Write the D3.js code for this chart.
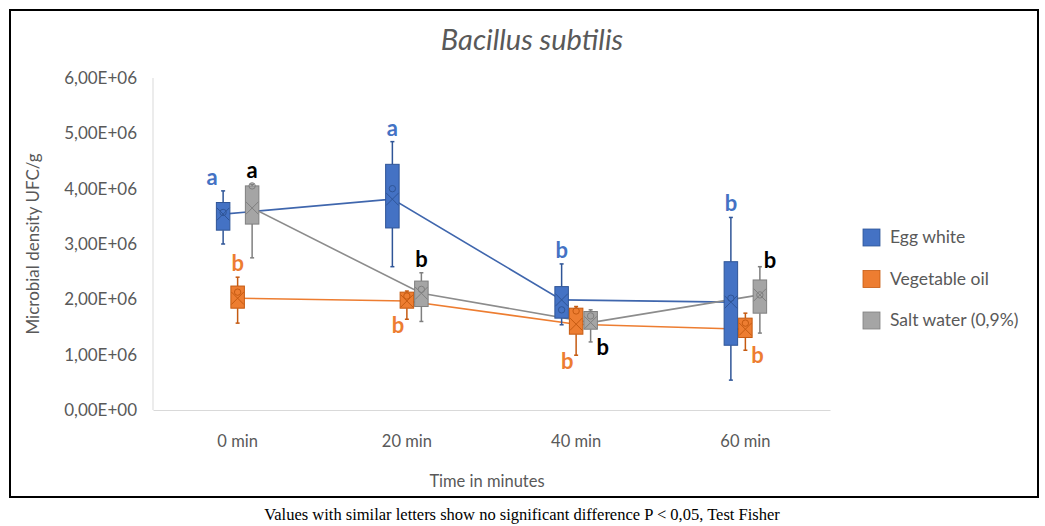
<!DOCTYPE html>
<html>
<head>
<meta charset="utf-8">
<script src="https://cdn.jsdelivr.net/npm/d3@7"></script>
<style>
  body { margin: 0; background: #fff; }
  svg text { font-family: Lato, "Open Sans", sans-serif; }
</style>
</head>
<body>
<div id="chart"></div>
<script>
  // categories and series
  const categories = ["0 min", "20 min", "40 min", "60 min"];
  const seriesNames = ["Egg white", "Vegetable oil", "Salt water (0,9%)"];

  // per category: [min, q1, q3, max, mean, inner point]
  const eggWhite = [
    [3.00e6, 3.25e6, 3.75e6, 3.96e6, 3.54e6, 3.57e6],
    [2.59e6, 3.29e6, 4.44e6, 4.85e6, 3.81e6, 4.00e6],
    [1.54e6, 1.66e6, 2.23e6, 2.64e6, 1.99e6, 1.81e6],
    [0.54e6, 1.17e6, 2.68e6, 3.48e6, 1.95e6, 2.02e6]
  ];
  const vegetableOil = [
    [1.57e6, 1.84e6, 2.24e6, 2.40e6, 2.02e6, 2.13e6],
    [1.64e6, 1.84e6, 2.13e6, 2.15e6, 1.97e6, 2.06e6],
    [0.99e6, 1.37e6, 1.84e6, 1.87e6, 1.55e6, 1.79e6],
    [1.08e6, 1.31e6, 1.66e6, 1.75e6, 1.46e6, 1.57e6]
  ];
  const saltWater = [
    [2.75e6, 3.36e6, 4.05e6, 4.08e6, 3.65e6, 4.05e6],
    [1.60e6, 1.87e6, 2.33e6, 2.48e6, 2.11e6, 2.18e6],
    [1.23e6, 1.46e6, 1.78e6, 1.81e6, 1.58e6, 1.70e6],
    [1.39e6, 1.75e6, 2.35e6, 2.59e6, 2.08e6, 2.08e6]
  ];

  const yTicks = [0, 1e6, 2e6, 3e6, 4e6, 5e6, 6e6];
  const yTickLabels = ["0,00E+00", "1,00E+06", "2,00E+06", "3,00E+06", "4,00E+06", "5,00E+06", "6,00E+06"];

  // significance letters: [category, series index, letter, where]
  const letters = [
    ["0 min", 0, "a", "topLeft"],
    ["0 min", 1, "b", "top"],
    ["0 min", 2, "a", "top"],
    ["20 min", 0, "a", "top"],
    ["20 min", 1, "b", "bottomLeft"],
    ["20 min", 2, "b", "top"],
    ["40 min", 0, "b", "top"],
    ["40 min", 1, "b", "bottomLeft"],
    ["40 min", 2, "b", "bottomRight"],
    ["60 min", 0, "b", "top"],
    ["60 min", 1, "b", "bottomRight"],
    ["60 min", 2, "b", "topRight"]
  ];

  const allSeries = [eggWhite, vegetableOil, saltWater];
  const fills = ["#4472C4", "#ED7D31", "#A5A5A5"];
  const strokes = ["#2F5597", "#C55A11", "#7F7F7F"];
  const letterColors = ["#4472C4", "#ED7D31", "#000000"];
  const textColor = "#595959";

  const width = 1045, height = 526;
  const plot = {left: 153, right: 830, top: 78, bottom: 410};

  const svg = d3.select("#chart").append("svg")
    .attr("width", width)
    .attr("height", height);

  // outer frame
  svg.append("rect")
    .attr("x", 10).attr("y", 10)
    .attr("width", 1028).attr("height", 487)
    .attr("fill", "#fff")
    .attr("stroke", "#000")
    .attr("stroke-width", 2);

  const xScale = d3.scaleBand()
    .domain(categories)
    .range([plot.left, plot.right]);

  const yScale = d3.scaleLinear()
    .domain([0, 6e6])
    .range([plot.bottom, plot.top]);

  const boxW = 14.5;
  function boxX(cat, s) {
    return xScale(cat) + xScale.bandwidth() / 2 + (s - 1) * boxW;
  }

  // axes lines
  svg.append("line")
    .attr("x1", plot.left).attr("x2", plot.left)
    .attr("y1", plot.top).attr("y2", plot.bottom)
    .attr("stroke", "#d9d9d9");
  const xAxis = svg.append("g")
    .attr("transform", "translate(0," + plot.bottom + ")")
    .call(d3.axisBottom(xScale).tickSize(0).tickPadding(25));
  xAxis.select(".domain").attr("stroke", "#d9d9d9");
  xAxis.selectAll("text")
    .attr("fill", textColor)
    .style("font-size", "16.5px");

  const yAxis = svg.append("g")
    .attr("transform", "translate(" + (plot.left - 16) + ",0)")
    .call(d3.axisLeft(yScale).tickValues(yTicks).tickSize(0).tickPadding(0)
      .tickFormat(function (d, i) { return yTickLabels[i]; }));
  yAxis.select(".domain").remove();
  yAxis.selectAll("text")
    .attr("fill", textColor)
    .style("font-size", "17px");

  // mean lines
  allSeries.forEach(function (data, s) {
    const line = d3.line()
      .x(function (d, i) { return boxX(categories[i], s); })
      .y(function (d) { return yScale(d[4]); });
    svg.append("path")
      .datum(data)
      .attr("d", line)
      .attr("fill", "none")
      .attr("stroke", s === 0 ? "#3F66AD" : (s === 1 ? "#ED7D31" : "#8C8C8C"))
      .attr("stroke-width", 1.6);
  });

  // boxes
  allSeries.forEach(function (data, s) {
    const g = svg.append("g");
    data.forEach(function (d, i) {
      const cx = boxX(categories[i], s);
      const x0 = cx - boxW / 2 + 0.5, x1 = cx + boxW / 2 - 0.5;
      // whiskers
      g.append("line")
        .attr("x1", cx).attr("x2", cx)
        .attr("y1", yScale(d[3])).attr("y2", yScale(d[2]))
        .attr("stroke", strokes[s]).attr("stroke-width", 1.5);
      g.append("line")
        .attr("x1", cx).attr("x2", cx)
        .attr("y1", yScale(d[1])).attr("y2", yScale(d[0]))
        .attr("stroke", strokes[s]).attr("stroke-width", 1.5);
      [d[0], d[3]].forEach(function (v) {
        g.append("line")
          .attr("x1", cx - 2).attr("x2", cx + 2)
          .attr("y1", yScale(v)).attr("y2", yScale(v))
          .attr("stroke", strokes[s]).attr("stroke-width", 1.5);
      });
      g.append("rect")
        .attr("x", x0)
        .attr("y", yScale(d[2]))
        .attr("width", x1 - x0)
        .attr("height", yScale(d[1]) - yScale(d[2]))
        .attr("fill", fills[s])
        .attr("stroke", strokes[s])
        .attr("stroke-width", 1);
      // mean marker (X)
      const my = yScale(d[4]);
      const h = Math.min(boxW / 2 - 1, (yScale(d[1]) - yScale(d[2])) / 2);
      g.append("path")
        .attr("d", "M" + (x0 + 0.5) + "," + (my - h) + "L" + (x1 - 0.5) + "," + (my + h) +
          "M" + (x0 + 0.5) + "," + (my + h) + "L" + (x1 - 0.5) + "," + (my - h))
        .attr("stroke", strokes[s])
        .attr("stroke-width", 1)
        .attr("fill", "none");
      // inner point
      g.append("circle")
        .attr("cx", cx)
        .attr("cy", yScale(d[5]))
        .attr("r", 3.2)
        .attr("fill", "none")
        .attr("stroke", strokes[s])
        .attr("stroke-width", 1);
    });
  });

  // significance letters
  letters.forEach(function (l) {
    const i = categories.indexOf(l[0]);
    const d = allSeries[l[1]][i];
    const cx = boxX(l[0], l[1]);
    let x = cx, y;
    if (l[3] === "top") { y = yScale(d[3]) - 6; }
    else if (l[3] === "topLeft") { x = cx - 11; y = yScale(d[3]) - 6; }
    else if (l[3] === "topRight") { x = cx + 10; y = yScale(d[3]) + 1; }
    else if (l[3] === "bottomLeft") { x = cx - 9; y = yScale(d[0]) + 14; }
    else { x = cx + 12; y = yScale(d[0]) + 13; }
    svg.append("text")
      .attr("x", x).attr("y", y)
      .attr("text-anchor", "middle")
      .attr("fill", letterColors[l[1]])
      .style("font-size", "22px")
      .style("font-weight", "bold")
      .text(l[2]);
  });

  // titles
  svg.append("text")
    .attr("x", 532).attr("y", 50)
    .attr("text-anchor", "middle")
    .attr("fill", textColor)
    .style("font-size", "29px")
    .style("font-style", "italic")
    .text("Bacillus subtilis");

  svg.append("text")
    .attr("transform", "translate(39," + ((plot.top + plot.bottom) / 2) + ") rotate(-90)")
    .attr("text-anchor", "middle")
    .attr("fill", textColor)
    .style("font-size", "17px")
    .text("Microbial density UFC/g");

  svg.append("text")
    .attr("x", 487).attr("y", 487)
    .attr("text-anchor", "middle")
    .attr("fill", textColor)
    .style("font-size", "16.5px")
    .text("Time in minutes");

  // legend
  const legend = svg.append("g");
  seriesNames.forEach(function (name, s) {
    const ly = 229 + s * 41.5;
    legend.append("rect")
      .attr("x", 863).attr("y", ly)
      .attr("width", 17).attr("height", 17)
      .attr("fill", fills[s])
      .attr("stroke", strokes[s])
      .attr("stroke-width", 0.8);
    legend.append("text")
      .attr("x", 890).attr("y", ly + 14)
      .attr("fill", textColor)
      .style("font-size", "17.5px")
      .text(name);
  });

  // caption
  svg.append("text")
    .attr("x", 522).attr("y", 520)
    .attr("text-anchor", "middle")
    .attr("fill", "#000")
    .style("font-family", "'Liberation Serif', serif")
    .style("font-size", "16.5px")
    .text("Values with similar letters show no significant difference P < 0,05, Test Fisher");
</script>
</body>
</html>
